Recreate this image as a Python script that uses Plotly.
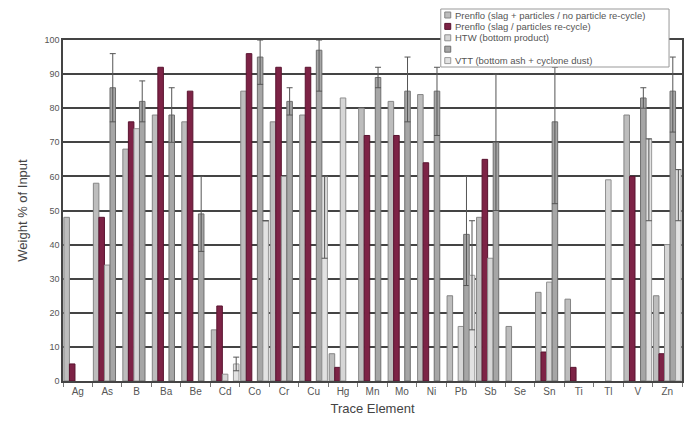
import plotly.graph_objects as go

elements = ["Ag", "As", "B", "Ba", "Be", "Cd", "Co", "Cr", "Cu", "Hg", "Mn",
            "Mo", "Ni", "Pb", "Sb", "Se", "Sn", "Ti", "Tl", "V", "Zn"]

series_names = [
    "Prenflo (slag + particles / no particle re-cycle)",
    "Prenflo (slag / particles re-cycle)",
    "HTW (bottom product)",
    "",
    "VTT (bottom ash + cyclone dust)",
]

prenflo_no_recycle = [48, 58, 68, 78, 76, 15, 85, 76, 78, 8, 80,
                      82, 84, 25, 48, 16, 26, 24, None, 78, 25]
prenflo_recycle = [5, 48, 76, 92, 85, 22, 96, 92, 92, 4, 72,
                   72, 64, None, 65, None, 8.5, 4, None, 60, 8]
htw_bottom = [None, 34, 74, None, None, 2, None, 60, None, 83, None,
              None, None, 16, 36, None, 29, None, 59, None, 40]
series4 = [None, 86, 82, 78, 49, None, 95, 82, 97, None, 89,
           85, 85, 43, 70, None, 76, None, None, 83, 85]
series4_err_plus = [0, 10, 6, 8, 11, 0, 5, 4, 3, 0, 3,
                    10, 7, 17, 20, 0, 16, 0, 0, 3, 10]
series4_err_minus = [0, 10, 6, 8, 11, 0, 8, 4, 12, 0, 3,
                     9, 13, 15, 20, 0, 24, 0, 0, 3, 12]
vtt = [None, None, None, None, None, 5, 47, None, 60, None, None,
       None, None, 31, None, None, None, None, None, 71, 62]
vtt_err_plus = [0, 0, 0, 0, 0, 2, 0, 0, 0, 0, 0,
                0, 0, 16, 0, 0, 0, 0, 0, 0, 0]
vtt_err_minus = [0, 0, 0, 0, 0, 2, 0, 0, 24, 0, 0,
                 0, 0, 16, 0, 0, 0, 0, 0, 24, 15]

y_ticks = list(range(0, 101, 10))

fills = ["#bdbdbd", "#7d2346", "#d6d6d6", "#a6a6a6", "#e2e2e2"]
lines = ["#858585", "#5a1430", "#8f8f8f", "#6e6e6e", "#9a9a9a"]

fig = go.Figure()
data = [prenflo_no_recycle, prenflo_recycle, htw_bottom, series4, vtt]
errs = [None, None, None, (series4_err_plus, series4_err_minus),
        (vtt_err_plus, vtt_err_minus)]
for i, vals in enumerate(data):
    kw = {}
    if errs[i] is not None:
        kw["error_y"] = dict(type="data", array=errs[i][0], arrayminus=errs[i][1],
                             symmetric=False, color="#555555", thickness=1, width=3)
    fig.add_trace(go.Bar(
        x=elements, y=vals, name=series_names[i] or " ", showlegend=False,
        marker=dict(color=fills[i], line=dict(color=lines[i], width=1)),
        **kw))

# compact legend box (drawn in paper coordinates, like the original's legend)
L, T, W, H = 63, 40, 621, 341   # plot-area geometry in px


def px_x(px):
    return (px - L) / W


def px_y(py):
    return (T + H - py) / H


shapes = [dict(type="rect", xref="paper", yref="paper",
               x0=px_x(442), x1=px_x(671), y0=px_y(67), y1=px_y(9),
               fillcolor="white", line=dict(color="#999999", width=1), layer="above")]
annotations = []
for i, name in enumerate(series_names):
    cy = 15 + i * 11.4
    shapes.append(dict(type="rect", xref="paper", yref="paper",
                       x0=px_x(446), x1=px_x(452), y0=px_y(cy + 3), y1=px_y(cy - 3),
                       fillcolor=fills[i], line=dict(color=lines[i], width=1), layer="above"))
    if name:
        annotations.append(dict(xref="paper", yref="paper", x=px_x(454), y=px_y(cy),
                                text=name, showarrow=False, xanchor="left", yanchor="middle",
                                font=dict(size=9.5, color="#555555")))

fig.update_layout(
    width=688, height=437,
    margin=dict(l=L, r=688 - L - W, t=T, b=437 - T - H),
    paper_bgcolor="white", plot_bgcolor="white",
    barmode="group", bargap=0.06, bargroupgap=0,
    font=dict(family="Liberation Sans, Arial, sans-serif", color="#333333", size=11),
    showlegend=False,
    shapes=shapes, annotations=annotations,
)
fig.update_xaxes(
    title=dict(text="Trace Element", font=dict(size=13, color="#444444"), standoff=8),
    showline=True, linecolor="#444444", linewidth=1.5, mirror=True,
    ticks="outside", tickson="boundaries", ticklen=4, tickcolor="#777777",
    tickfont=dict(size=10, color="#555555"), showgrid=False,
)
fig.update_yaxes(
    title=dict(text="Weight % of Input", font=dict(size=13, color="#444444"), standoff=14),
    range=[0, 100], tickvals=y_ticks,
    showline=True, linecolor="#444444", linewidth=1.5, mirror=True,
    showgrid=True, gridcolor="#444444", gridwidth=1.5,
    tickfont=dict(size=9, color="#555555"), ticks="", zeroline=False,
)

fig.write_html("out.html")
